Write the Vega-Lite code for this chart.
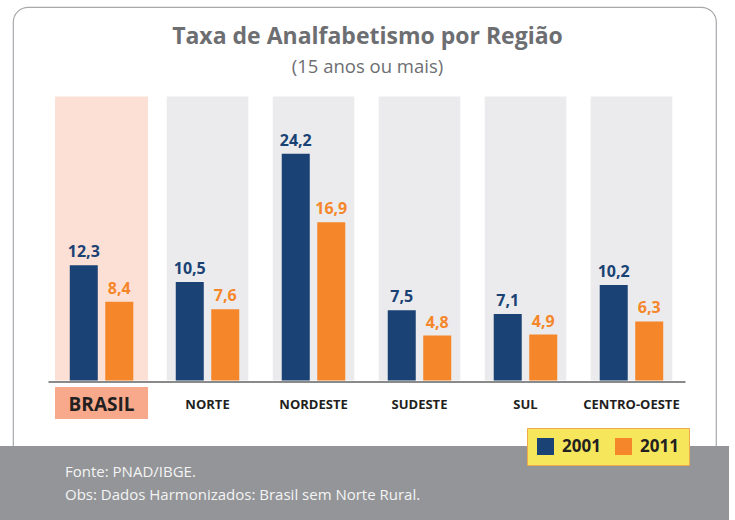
{
  "$schema": "https://vega.github.io/schema/vega-lite/v6.json",
  "width": 703,
  "height": 513,
  "autosize": {"type": "none"},
  "padding": {"left": 13, "top": 7, "right": 19, "bottom": 0},
  "background": "white",
  "datasets": {
    "regions": [
      {"region": "BRASIL"}, {"region": "NORTE"}, {"region": "NORDESTE"},
      {"region": "SUDESTE"}, {"region": "SUL"}, {"region": "CENTRO-OESTE"}
    ],
    "rates": [
      {"region": "BRASIL", "year": "2001", "value": 12.3},
      {"region": "BRASIL", "year": "2011", "value": 8.4},
      {"region": "NORTE", "year": "2001", "value": 10.5},
      {"region": "NORTE", "year": "2011", "value": 7.6},
      {"region": "NORDESTE", "year": "2001", "value": 24.2},
      {"region": "NORDESTE", "year": "2011", "value": 16.9},
      {"region": "SUDESTE", "year": "2001", "value": 7.5},
      {"region": "SUDESTE", "year": "2011", "value": 4.8},
      {"region": "SUL", "year": "2001", "value": 7.1},
      {"region": "SUL", "year": "2011", "value": 4.9},
      {"region": "CENTRO-OESTE", "year": "2001", "value": 10.2},
      {"region": "CENTRO-OESTE", "year": "2011", "value": 6.3}
    ],
    "one": [{"id": 1}]
  },
  "layer": [
    {
      "data": {"name": "one"},
      "mark": {"type": "rect", "color": "#939598", "stroke": "#939598", "strokeWidth": 26, "strokeJoin": "miter", "clip": false},
      "encoding": {
        "y": {"datum": -8.38, "type": "quantitative", "scale": {"domain": [-14.888, 39.861], "nice": false, "zero": false}, "axis": null},
        "y2": {"datum": -20}
      }
    },
    {
      "data": {"name": "regions"},
      "transform": [{"filter": "datum.region !== 'BRASIL'"}],
      "mark": {"type": "bar", "color": "#ebebed", "width": {"band": 1}},
      "encoding": {
        "x": {"field": "region", "type": "nominal", "title": null, "scale": {"domain": ["BRASIL", "NORTE", "NORDESTE", "SUDESTE", "SUL", "CENTRO-OESTE"], "range": [35, 672], "paddingInner": 0.23, "paddingOuter": 0.12}},
        "y": {"datum": 30.3, "type": "quantitative"},
        "y2": {"datum": 0}
      }
    },
    {
      "data": {"name": "regions"},
      "transform": [{"filter": "datum.region === 'BRASIL'"}],
      "mark": {"type": "bar", "color": "#fce0d6", "width": {"band": 1.14}},
      "encoding": {
        "x": {"field": "region", "type": "nominal", "title": null},
        "y": {"datum": 30.3, "type": "quantitative"},
        "y2": {"datum": 0}
      }
    },
    {
      "data": {"name": "regions"},
      "transform": [{"filter": "datum.region === 'BRASIL'"}],
      "mark": {"type": "bar", "color": "#f8a98b", "width": {"band": 1.14}, "clip": false},
      "encoding": {
        "x": {"field": "region", "type": "nominal", "title": null},
        "y": {"datum": -0.69, "type": "quantitative"},
        "y2": {"datum": -4.1}
      }
    },
    {
      "data": {"name": "rates"},
      "mark": {"type": "bar", "width": {"band": 1}},
      "encoding": {
        "x": {
          "field": "region", "type": "nominal", "title": null,
          "axis": {
            "orient": "bottom", "offset": -138.5, "zindex": 1,
            "domain": true, "domainColor": "#8a8a8a", "domainWidth": 2,
            "ticks": false, "tickSize": 0, "grid": false,
            "labelAngle": 0, "labelAlign": "center", "labelPadding": 22.5, "labelBaseline": "middle",
            "labelFont": "Open Sans", "labelFontWeight": "bold", "labelColor": "#231f20",
            "labelFontSize": {"condition": {"test": "datum.value === 'BRASIL'", "value": 19}, "value": 13}
          }
        },
        "xOffset": {"field": "year", "type": "nominal", "scale": {"paddingInner": 0.211, "paddingOuter": 0.255}},
        "y": {"field": "value", "type": "quantitative"},
        "color": {
          "field": "year", "type": "nominal",
          "scale": {"domain": ["2001", "2011"], "range": ["#1a4274", "#f5862a"]},
          "legend": {
            "orient": "none", "legendX": 514, "legendY": 421, "direction": "horizontal", "title": null,
            "fillColor": "#f6e65c", "strokeColor": "#f0a94a", "padding": 10,
            "symbolType": "square", "symbolSize": 289, "symbolStrokeWidth": 0,
            "labelFontSize": 17, "labelFontWeight": "bold", "labelColor": "#231f20", "labelFont": "Open Sans",
            "columnPadding": 14, "labelOffset": 8
          }
        }
      }
    },
    {
      "data": {"name": "rates"},
      "mark": {"type": "text", "dy": -8, "baseline": "alphabetic", "font": "Open Sans", "fontWeight": "bold", "fontSize": 16},
      "encoding": {
        "x": {"field": "region", "type": "nominal", "title": null},
        "xOffset": {"field": "year", "type": "nominal"},
        "y": {"field": "value", "type": "quantitative"},
        "text": {"field": "value", "type": "quantitative", "format": ".1f"},
        "color": {"field": "year", "type": "nominal"}
      }
    },
    {
      "data": {"name": "one"},
      "mark": {"type": "text", "baseline": "alphabetic", "dx": 3, "font": "Open Sans", "fontWeight": "bold", "fontSize": 23, "color": "#6d6e71"},
      "encoding": {
        "y": {"datum": 35.88, "type": "quantitative"},
        "text": {"value": "Taxa de Analfabetismo por Região"}
      }
    },
    {
      "data": {"name": "one"},
      "mark": {"type": "text", "baseline": "alphabetic", "dx": 3, "font": "Open Sans", "fontSize": 18.5, "color": "#6d6e71"},
      "encoding": {
        "y": {"datum": 32.82, "type": "quantitative"},
        "text": {"value": "(15 anos ou mais)"}
      }
    },
    {
      "data": {"name": "one"},
      "mark": {"type": "text", "baseline": "alphabetic", "align": "left", "dx": 4.3, "font": "Open Sans", "fontSize": 15, "color": "#f4f4f4", "lineHeight": 23, "clip": false},
      "encoding": {
        "x": {"datum": "BRASIL", "type": "nominal", "bandPosition": 0, "title": null},
        "y": {"datum": -10.3, "type": "quantitative"},
        "text": {"value": ["Fonte: PNAD/IBGE.", "Obs: Dados Harmonizados: Brasil sem Norte Rural."]}
      }
    }
  ],
  "config": {
    "locale": {"number": {"decimal": ",", "thousands": ".", "grouping": [3], "currency": ["R$", ""]}},
    "view": {"stroke": "#a7a9ac", "strokeWidth": 1.2, "cornerRadius": 15, "fill": "white"},
    "axisY": {"grid": false}
  }
}
